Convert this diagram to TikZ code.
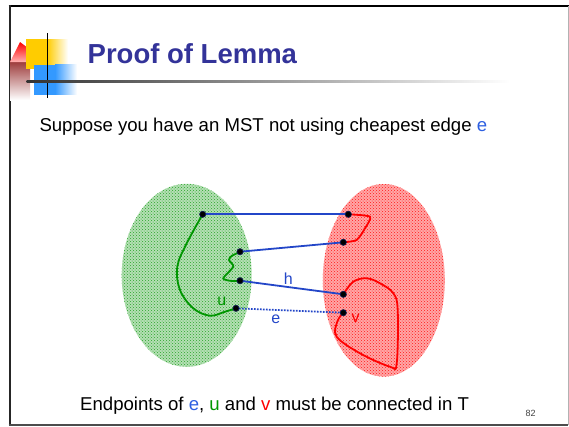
\documentclass[tikz,border=0pt]{standalone}
\usepackage{fontspec}
\setmainfont{Liberation Sans}
\usetikzlibrary{patterns}

\definecolor{titleblue}{RGB}{51,51,153}
\definecolor{edgeblue}{RGB}{35,70,200}
\definecolor{textblue}{RGB}{45,95,225}
\definecolor{setgreen}{RGB}{40,165,40}
\definecolor{pathgreen}{RGB}{0,150,0}
\definecolor{logoyellow}{RGB}{255,204,0}
\definecolor{logoblue}{RGB}{51,153,255}

\begin{document}
\begin{tikzpicture}[x=1pt, y=-1pt,
                          vertexdot/.style={circle, fill=black, draw=edgeblue!40!black, line width=0.7pt, inner sep=0pt, minimum size=6.2pt},
                          treeedge/.style={edgeblue, line width=1.8pt},
                          greenset/.style={preaction={fill=setgreen!35}, pattern=crosshatch dots, pattern color=setgreen},
                          redset/.style={preaction={fill=red!35}, pattern=crosshatch dots, pattern color=red!90},
                          greenpath/.style={pathgreen, line width=1.8pt},
                          redpath/.style={red, line width=1.8pt},
                          label_text/.style={inner sep=0pt, font=\fontsize{16}{19}\selectfont},
                          slide_text/.style={inner sep=0pt, anchor=base west, font=\fontsize{18.6}{22}\selectfont},
                      ]
                      \useasboundingbox (0,0) rectangle (569,426);

                      % Frame
                      \draw[line width=2.3pt] (8.5,6) -- (569,6);
                      \draw[black!85, line width=2pt] (9.5,5) -- (9.5,426);
                      \draw[black!70, line width=1.3pt] (8.5,425) -- (568,425);
                      \draw[black!30, line width=0.8pt] (568,6) -- (568,425);

                      % Logo
                      \shade[top color=black!50!red!80, bottom color=white] (10,60) rectangle (30,100);
                      \shade[top color=red, bottom color=red!30] (10,62) -- (20,42) -- (28,48) -- (28,62) -- cycle;
                      \fill[logoyellow] (26,39) rectangle (47,68.7);
                      \shade[left color=logoyellow, right color=white] (47,39) rectangle (68,68.7);
                      \fill[logoblue] (34,64.7) rectangle (55,94.7);
                      \shade[left color=logoblue, right color=white] (55,64.7) rectangle (77,94.7);
                      \draw[line width=1.5pt] (47.7,33) -- (47.7,98);
                      \shade[left color=black!80, right color=white] (26.7,80.5) rectangle (510,82.5);

                      % Texts
                      \node[inner sep=0pt, anchor=base west, text=titleblue, font=\fontsize{27.5}{33}\selectfont\bfseries] (title) at (87.5,63.5) {Proof of Lemma};
                      \node[slide_text] (claim) at (39.3,131) {Suppose you have an MST not using cheapest edge \textcolor{textblue}{e}};
                      \node[slide_text] (conclusion) at (80,410) {Endpoints of \textcolor{textblue}{e}, \textcolor{pathgreen}{u} and \textcolor{red}{v} must be connected in T};
                      \node[inner sep=0pt, font=\fontsize{9}{11}\selectfont, text=black!75] (page) at (530.5,413) {82};

                      % Sets
                      \path[greenset] (186.7,275.3) ellipse [x radius=65, y radius=91.5];
                      \path[redset] (383.8,280.3) ellipse [x radius=61, y radius=96.3];

                      %Lines
                      \coordinate (a1) at (202.7,214.3);
                      \coordinate (a2) at (240,251.7);
                      \coordinate (a3) at (240,280.7);
                      \coordinate (u) at (236,308.3);
                      \coordinate (b1) at (348.3,214.3);
                      \coordinate (b2) at (343.3,242.3);
                      \coordinate (b3) at (343.3,294.3);
                      \coordinate (v) at (343.3,312.7);

                      \draw[treeedge] (a1) -- (b1);
                      \draw[treeedge] (a2) -- (b2);
                      \draw[treeedge] (a3) -- (b3);
                      \draw[treeedge, dash pattern=on 1.6pt off 1.4pt] (u) -- (v);

                      \draw[greenpath] plot[smooth, tension=0.6] coordinates {(a1) (186.7,243.3) (177.3,266.7) (180,290) (193.3,308.3) (210,315.7) (225,311.7) (u)};
                      \draw[greenpath] plot[smooth, tension=0.4] coordinates {(a2) (231.7,256) (229,260) (233.3,266.7) (223.3,278.3) (231.7,281) (a3)};
                      \draw[redpath] plot[smooth, tension=0.4] coordinates {(b1) (370,216.7) (365,228.3) (356.7,240) (b2)};
                      \draw[redpath] plot[smooth, tension=0.6] coordinates {(b3) (353.3,281.7) (366.7,278.3) (380,283.3) (393.3,293.3) (397.7,310) (396.7,363.3) (390,366.7) (360,353.3) (336.7,336.7) (337.3,321.7) (v)};

                      % Nodes
                      \foreach \pt in {a1,a2,a3,u,b1,b2,b3,v}
                          \node[vertexdot] (dot_\pt) at (\pt) {};

                      \node[label_text, text=pathgreen] (u_label) at (221.7,301.7) {u};
                      \node[label_text, text=red] (v_label) at (355.5,318.3) {v};
                      \node[label_text, text=edgeblue] (h_label) at (288.3,278.3) {h};
                      \node[label_text, text=edgeblue] (e_label) at (275.7,319.3) {e};
                  \end{tikzpicture}
\end{document}
